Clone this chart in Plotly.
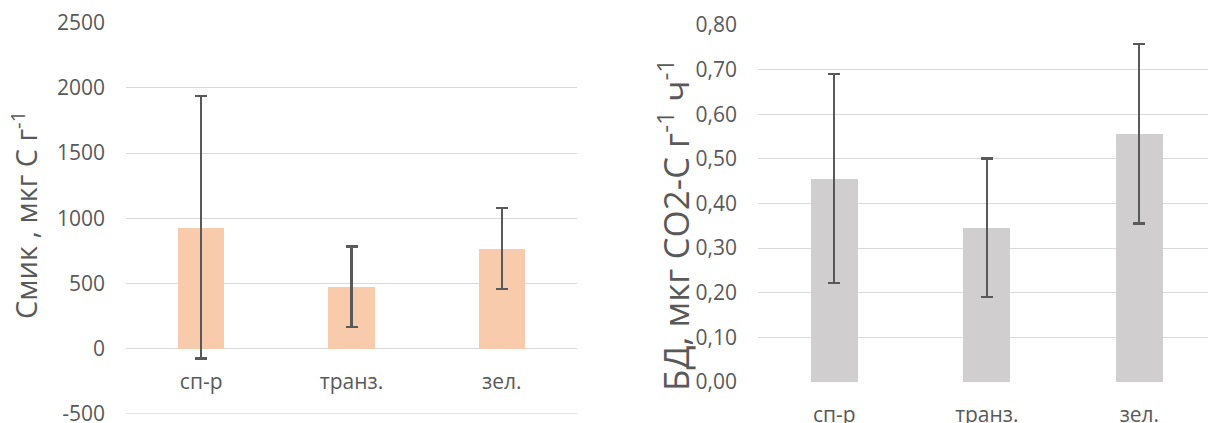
import plotly.graph_objects as go

categories = ["сп-р", "транз.", "зел."]
cmic_values = [930, 475, 770]
cmic_sd = [1005, 308, 310]
bd_values = [0.456, 0.346, 0.556]
bd_sd = [0.235, 0.155, 0.201]

left_ticks = [-500, 0, 500, 1000, 1500, 2000, 2500]
left_tick_labels = ["-500", "0", "500", "1000", "1500", "2000", "2500"]
right_ticks = [0.0, 0.1, 0.2, 0.3, 0.4, 0.5, 0.6, 0.7, 0.8]

FONT = "Open Sans"
TXT = "#595959"
GRID = "#D9D9D9"
W, H = 1208, 423

fig = go.Figure()
fig.add_trace(go.Bar(
    x=categories, y=cmic_values, width=0.31,
    marker=dict(color="#F8CBAD", line=dict(width=0)),
    error_y=dict(type="data", array=cmic_sd, visible=True, color="#595959", thickness=2.2, width=6),
    xaxis="x", yaxis="y", showlegend=False,
))
fig.add_trace(go.Bar(
    x=categories, y=bd_values, width=0.31,
    marker=dict(color="#D0CECE", line=dict(width=0)),
    error_y=dict(type="data", array=bd_sd, visible=True, color="#595959", thickness=2.2, width=6),
    xaxis="x2", yaxis="y2", showlegend=False,
))

def py(px):
    return (H - px) / H

y1_top, y1_bot = py(22.5), py(414)
y2_top, y2_bot = py(25), py(382)
zero_pos = y1_bot + (y1_top - y1_bot) * (500 / 3000)

fig.update_layout(
    template="none",
    width=W, height=H,
    margin=dict(l=0, r=0, t=0, b=0, autoexpand=False),
    paper_bgcolor="white", plot_bgcolor="white",
    separators=", ",
    font=dict(family=FONT, size=21, color=TXT),
    bargap=0,
    xaxis=dict(domain=[126 / W, 577 / W], anchor="free", position=zero_pos,
               range=[-0.5, 2.5], showline=False, showgrid=False, zeroline=False,
               automargin=False, ticklabeloverflow="allow",
               ticks="", ticklabelstandoff=18, tickfont=dict(size=21, color=TXT)),
    yaxis=dict(domain=[y1_bot, y1_top], range=[-500, 2500], tickvals=left_ticks,
               ticktext=left_tick_labels,
               showgrid=True, gridcolor=GRID, gridwidth=1.3, zeroline=False,
               showline=False, ticks="", ticklabelstandoff=20, automargin=False,
               ticklabeloverflow="allow",
               tickfont=dict(size=21, color=TXT)),
    xaxis2=dict(domain=[758 / W, 1.0], anchor="y2", range=[-0.5, 2.45],
                showline=False, showgrid=False, zeroline=False, automargin=False,
                ticklabeloverflow="allow",
                ticks="", ticklabelstandoff=18, tickfont=dict(size=21, color=TXT)),
    yaxis2=dict(domain=[y2_bot, y2_top], anchor="x2", range=[0, 0.8], tickvals=right_ticks,
                tickformat=".2f", showgrid=True, gridcolor=GRID, gridwidth=1.3,
                zeroline=False, showline=False, ticks="", ticklabelstandoff=20,
                automargin=False, ticklabeloverflow="allow",
                tickfont=dict(size=21, color=TXT)),
    shapes=[
        dict(type="line", xref="x domain", yref="y", x0=0, x1=1, y0=-500, y1=-500,
             line=dict(color=GRID, width=1.3), layer="below"),
    ],
    annotations=[
        dict(text="Смик , мкг С г<sup>-1</sup>", x=24 / W, y=py(215), xref="paper", yref="paper",
             textangle=-90, showarrow=False, font=dict(family=FONT, size=29, color=TXT),
             xanchor="center", yanchor="middle"),
        dict(text="БД, мкг CO2-C г<sup>-1</sup> ч<sup>-1</sup>", x=673 / W, y=py(225),
             xref="paper", yref="paper", textangle=-90, showarrow=False,
             font=dict(family=FONT, size=35, color=TXT), xanchor="center", yanchor="middle"),
    ],
)

fig.write_html(
    "out.html",
    config={"displayModeBar": False},
    post_script="document.body.style.margin='0';document.body.style.overflow='hidden';",
)
